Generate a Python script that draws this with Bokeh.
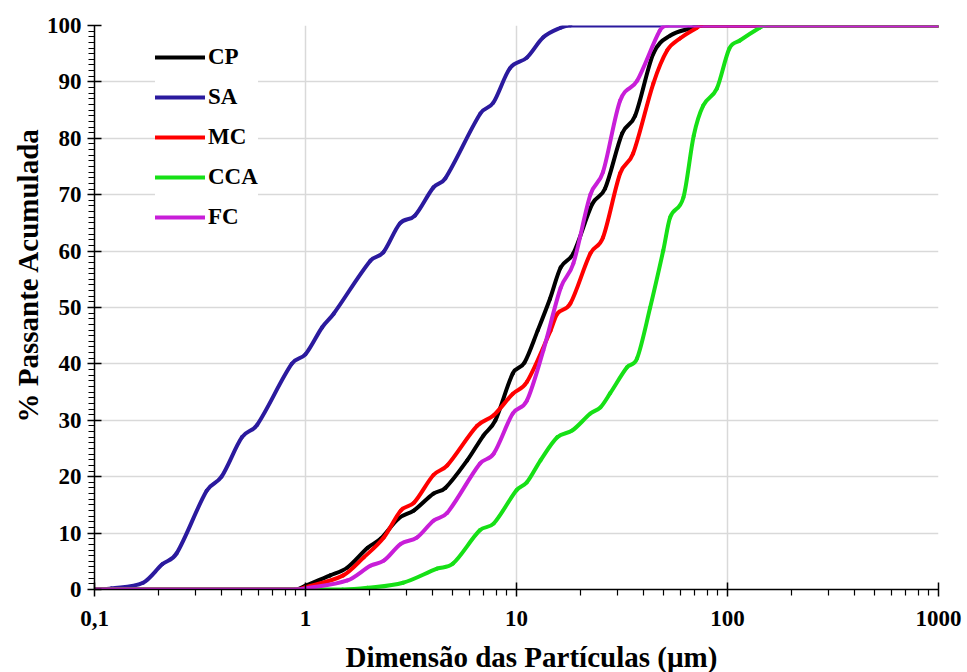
import math
from bokeh.plotting import figure
from bokeh.models import Range1d, FixedTicker, Title
from bokeh.embed import file_html
from bokeh.resources import INLINE

# ---- data ----
cp_x = [0.1, 0.9, 1.0, 1.31, 1.58, 1.97, 2.27, 2.76, 3.26, 4.04, 4.6, 5.84, 6.97, 7.94, 9.6, 10.9, 12.6, 14.4, 16.2, 18.6, 22.9, 26.3, 31.7, 36.5, 44.5, 53.5, 66.6, 75, 1000]
cp_y = [0, 0, 0.7, 2.5, 3.9, 7.4, 9.0, 12.6, 14.0, 17.0, 18.0, 22.9, 27.3, 30.0, 38.3, 40.2, 45.9, 51.5, 57.1, 59.6, 68.4, 71.1, 80.9, 84.0, 95.0, 98.2, 99.5, 100, 100]

sa_x = [0.1, 0.12, 0.17, 0.21, 0.245, 0.34, 0.4, 0.5, 0.59, 0.86, 1.0, 1.2, 1.36, 2.03, 2.34, 2.8, 3.3, 4.04, 4.6, 6.74, 7.76, 9.3, 11.2, 13.4, 16.2, 18, 1000]
sa_y = [0, 0.2, 1.2, 4.5, 6.4, 17.5, 20.0, 27.0, 29.2, 40.0, 41.7, 46.5, 48.9, 58.3, 59.8, 64.9, 66.3, 71.3, 72.9, 84.4, 86.3, 92.4, 94.3, 97.9, 99.6, 100, 100]

mc_x = [0.1, 0.9, 1.0, 1.51, 1.89, 2.35, 2.83, 3.27, 4.04, 4.7, 6.5, 7.8, 9.6, 11.2, 14.5, 15.6, 18.0, 22.4, 25.7, 31.0, 35.7, 44.5, 51.8, 59.5, 71.6, 75, 1000]
mc_y = [0, 0, 0.4, 2.5, 5.7, 9.2, 14.0, 15.4, 20.3, 22.0, 29.0, 30.9, 34.7, 36.8, 45.9, 48.9, 50.7, 59.6, 62.4, 73.8, 77.3, 89.7, 95.6, 97.7, 99.6, 100, 100]

cca_x = [0.1, 1.5, 1.97, 2.9, 4.2, 5.0, 6.7, 7.8, 10.0, 11.2, 13.0, 15.6, 18.4, 22.4, 25.0, 27.8, 33.4, 37.3, 43.0, 49.6, 53.5, 61.8, 69.2, 76.7, 89.0, 102, 114, 142, 150, 1000]
cca_y = [0, 0, 0.3, 1.2, 3.7, 4.6, 10.5, 11.7, 17.6, 19.0, 22.9, 27.0, 28.2, 31.2, 32.3, 34.8, 39.4, 41.0, 50.0, 60.1, 66.0, 69.5, 80.5, 85.8, 88.8, 95.9, 97.3, 99.6, 100, 100]

fc_x = [0.1, 0.9, 1.0, 1.58, 2.03, 2.35, 2.83, 3.37, 4.04, 4.7, 6.7, 7.8, 9.6, 11.2, 13.4, 16.2, 18.6, 22.4, 25.7, 31.0, 37.3, 47.8, 52, 1000]
fc_y = [0, 0, 0.2, 1.6, 4.2, 5.1, 8.1, 9.2, 12.2, 13.6, 22.3, 24.1, 31.2, 33.5, 42.4, 53.5, 57.8, 70.0, 74.0, 86.7, 90.2, 99.1, 100, 100]

series_names = ["CP", "SA", "MC", "CCA", "FC"]
x_ticks = [0.1, 1, 10, 100, 1000]
x_tick_labels = ["0,1", "1", "10", "100", "1000"]
y_ticks = [0, 10, 20, 30, 40, 50, 60, 70, 80, 90, 100]

colors = ["#000000", "#2b1a9e", "#ff0000", "#16e016", "#c81ed8"]
FONT = "Liberation Serif"


def smooth_segments(xs, ys):
    """Smoothed line drawn as cubic Bezier segments through the data points
    (Hermite tangents from neighbouring points, computed in log-x space)."""
    lx = [math.log10(v) for v in xs]
    n = len(xs)
    slopes = []
    for i in range(n):
        a = max(i - 1, 0)
        b = min(i + 1, n - 1)
        slopes.append((ys[b] - ys[a]) / (lx[b] - lx[a]))
    out = dict(x0=[], y0=[], x1=[], y1=[], cx0=[], cy0=[], cx1=[], cy1=[])
    for i in range(n - 1):
        h = (lx[i + 1] - lx[i]) / 3
        lo, hi = min(ys[i], ys[i + 1]), max(ys[i], ys[i + 1])
        c0y = min(max(ys[i] + slopes[i] * h, lo), hi)
        c1y = min(max(ys[i + 1] - slopes[i + 1] * h, lo), hi)
        out["x0"].append(xs[i]); out["y0"].append(ys[i])
        out["x1"].append(xs[i + 1]); out["y1"].append(ys[i + 1])
        out["cx0"].append(10 ** (lx[i] + h)); out["cy0"].append(c0y)
        out["cx1"].append(10 ** (lx[i + 1] - h)); out["cy1"].append(c1y)
    return out


p = figure(frame_width=844, frame_height=564, x_axis_type="log",
           x_range=Range1d(0.1, 1000), y_range=Range1d(0, 100),
           output_backend="svg", toolbar_location=None,
           min_border_left=94, min_border_right=29, min_border_top=25, min_border_bottom=83)
p.outline_line_color = None
p.background_fill_color = "white"

data = [(cp_x, cp_y), (sa_x, sa_y), (mc_x, mc_y), (cca_x, cca_y), (fc_x, fc_y)]
for (xs, ys), name, c in zip(data, series_names, colors):
    seg = smooth_segments(xs, ys)
    p.bezier(x0=seg["x0"], y0=seg["y0"], x1=seg["x1"], y1=seg["y1"],
             cx0=seg["cx0"], cy0=seg["cy0"], cx1=seg["cx1"], cy1=seg["cy1"],
             line_color=c, line_width=4, line_cap="round", legend_label=name)

# axes
minor = [m * d for d in [0.1, 1, 10, 100] for m in range(2, 10)]
p.xaxis.ticker = FixedTicker(ticks=x_ticks, minor_ticks=minor)
p.xaxis.major_label_overrides = {t: l for t, l in zip(x_ticks, x_tick_labels)}
p.yaxis.ticker = FixedTicker(ticks=y_ticks, minor_ticks=list(range(0, 101)))

for ax in (p.xaxis[0], p.yaxis[0]):
    ax.axis_line_color = "black"
    ax.axis_line_width = 1.5
    ax.major_tick_line_color = "black"
    ax.minor_tick_line_color = "black"
    ax.major_tick_line_width = 1.5
    ax.minor_tick_line_width = 1.2
    ax.major_tick_in = 7
    ax.major_tick_out = 7
    ax.minor_tick_in = 0
    ax.minor_tick_out = 6
    ax.major_label_text_font = FONT
    ax.major_label_text_font_style = "bold"
    ax.major_label_text_font_size = "23px"
    ax.major_label_text_color = "black"

p.xaxis.major_label_standoff = 14
p.yaxis.major_label_standoff = 6

xtitle = Title(text="Dimensão das Partículas (µm)", align="left", offset=251,
               text_font=FONT, text_font_style="bold", text_font_size="29px",
               text_color="black", standoff=20)
p.add_layout(xtitle, "below")

ytitle = Title(text="% Passante Acumulada", align="left", offset=167,
               text_font=FONT, text_font_style="bold", text_font_size="29px",
               text_color="black", standoff=0)
p.add_layout(ytitle, "left")

p.xgrid.ticker = FixedTicker(ticks=x_ticks)
p.ygrid.ticker = FixedTicker(ticks=y_ticks)
for g in (p.xgrid[0], p.ygrid[0]):
    g.grid_line_color = "#d9d9d9"
    g.grid_line_width = 1.5

leg = p.legend[0]
leg.location = (61, 359)
leg.border_line_color = None
leg.background_fill_color = "white"
leg.background_fill_alpha = 1
leg.padding = 10
leg.margin = 0
leg.spacing = 14
leg.glyph_width = 50
leg.glyph_height = 20
leg.label_height = 20
leg.label_standoff = 3
leg.label_text_font = FONT
leg.label_text_font_style = "bold"
leg.label_text_font_size = "23px"
leg.label_text_color = "black"

open("out.html", "w").write(file_html(p, INLINE))
